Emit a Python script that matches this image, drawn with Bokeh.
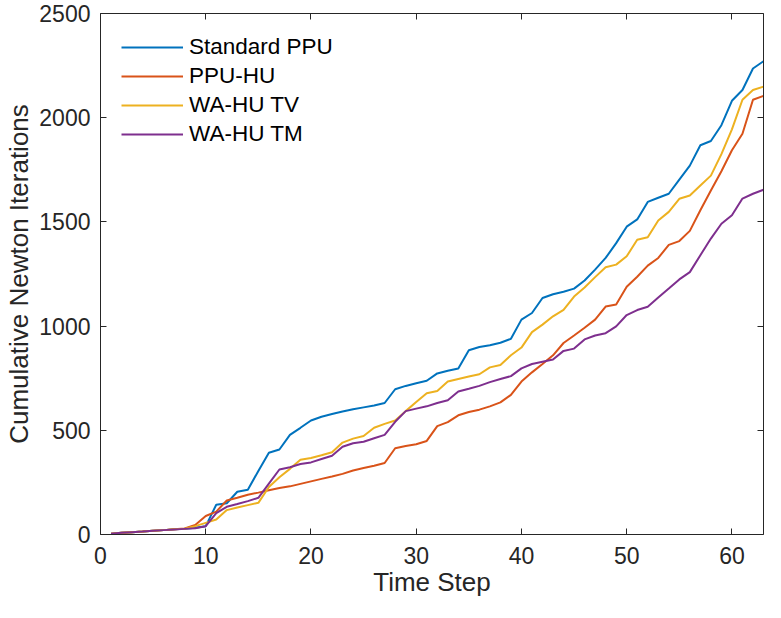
from bokeh.plotting import figure
from bokeh.models import (Range1d, LinearAxis, FixedTicker, Legend, LegendItem,
                          CustomLabelingPolicy)
from bokeh.embed import file_html
from bokeh.resources import INLINE

time_step = list(range(1, 64))

standard_ppu = [4, 8, 11, 14, 18, 21, 25, 28, 32, 40,
                143, 150, 205, 215, 305, 392, 408, 478, 512, 547,
                565, 578, 590, 601, 610, 619, 631, 697, 713, 726,
                738, 773, 786, 797, 884, 900, 908, 920, 939, 1031,
                1063, 1135, 1153, 1165, 1180, 1219, 1271, 1327, 1398, 1477,
                1512, 1596, 1616, 1635, 1703, 1770, 1868, 1888, 1964, 2081,
                2133, 2236, 2271]
ppu_hu = [4, 8, 11, 14, 18, 21, 25, 29, 46, 89,
          110, 163, 176, 191, 201, 212, 223, 231, 243, 255,
          267, 278, 291, 307, 319, 330, 343, 414, 425, 433,
          449, 520, 539, 572, 588, 599, 615, 634, 670, 734,
          778, 818, 860, 919, 955, 992, 1031, 1094, 1104, 1189,
          1237, 1290, 1327, 1390, 1408, 1457, 1556, 1651, 1743, 1844,
          1923, 2086, 2105]
wa_hu_tv = [4, 8, 11, 14, 18, 21, 25, 28, 40, 56,
            72, 117, 130, 141, 152, 228, 275, 315, 359, 367,
            380, 395, 441, 460, 473, 512, 531, 547, 592, 636,
            678, 689, 734, 746, 758, 769, 802, 813, 860, 897,
            971, 1007, 1047, 1078, 1142, 1185, 1235, 1282, 1295, 1335,
            1414, 1426, 1507, 1548, 1611, 1627, 1675, 1722, 1825, 1944,
            2086, 2133, 2149]
wa_hu_tm = [4, 8, 11, 14, 18, 21, 24, 27, 30, 40,
            103, 133, 146, 160, 176, 244, 312, 323, 338, 346,
            362, 378, 421, 438, 445, 462, 478, 541, 592, 604,
            615, 631, 644, 686, 699, 713, 731, 746, 760, 797,
            818, 829, 840, 881, 892, 936, 955, 966, 999, 1053,
            1077, 1093, 1137, 1180, 1224, 1259, 1340, 1420, 1491, 1532,
            1612, 1635, 1654]

series_names = ["Standard PPU", "PPU-HU", "WA-HU TV", "WA-HU TM"]
series_values = [standard_ppu, ppu_hu, wa_hu_tv, wa_hu_tm]
series_colors = ["#0072BD", "#D95319", "#EDB120", "#7E2F8E"]

x_ticks = [0, 10, 20, 30, 40, 50, 60]
y_ticks = [0, 500, 1000, 1500, 2000, 2500]

FONT = "Liberation Sans"
AX = "#262626"

p = figure(width=765, height=602, output_backend="svg", toolbar_location=None,
           x_range=Range1d(0, 63), y_range=Range1d(0, 2500),
           min_border_left=100, min_border_right=2, min_border_top=13,
           min_border_bottom=68)
p.grid.visible = False
p.outline_line_color = None
p.background_fill_color = "white"

hide_labels = CustomLabelingPolicy(code="""
try { return new indices.constructor(indices.size, 0) }
catch (e) { for (const i of Array.from(indices)) { indices.set(i, false) } return indices }
""")

def style_axis(ax, ticks, show_labels=True):
    ax.ticker = FixedTicker(ticks=ticks)
    ax.axis_line_color = AX
    ax.axis_line_width = 1
    ax.major_tick_line_color = AX
    ax.major_tick_in = 6
    ax.major_tick_out = 0
    ax.minor_tick_line_color = None
    ax.major_label_text_font = FONT
    ax.major_label_text_color = AX
    if show_labels:
        ax.major_label_text_font_size = "23px"
    else:
        ax.major_label_text_font_size = "0px"
        ax.major_label_policy = hide_labels
        ax.major_label_standoff = 0

style_axis(p.xaxis[0], x_ticks)
style_axis(p.yaxis[0], y_ticks)
p.xaxis[0].major_label_standoff = 12
p.yaxis[0].major_label_standoff = 10
p.xaxis[0].axis_label = "Time Step"
p.yaxis[0].axis_label = "Cumulative Newton Iterations"
for ax in (p.xaxis[0], p.yaxis[0]):
    ax.axis_label_text_font = FONT
    ax.axis_label_text_font_size = "26px"
    ax.axis_label_text_font_style = "normal"
    ax.axis_label_text_color = AX
p.xaxis[0].axis_label_standoff = 0
p.yaxis[0].axis_label_standoff = 2

top_ax = LinearAxis()
style_axis(top_ax, x_ticks, show_labels=False)
p.add_layout(top_ax, "above")
right_ax = LinearAxis()
style_axis(right_ax, y_ticks, show_labels=False)
p.add_layout(right_ax, "right")

items = []
for name, vals, col in zip(series_names, series_values, series_colors):
    r = p.line(time_step, vals, line_color=col, line_width=2)
    items.append(LegendItem(label=name, renderers=[r]))

legend = Legend(items=items, location="top_left")
legend.margin = 21
legend.padding = 0
legend.spacing = 3
legend.glyph_width = 62
legend.glyph_height = 20
legend.label_height = 20
legend.label_standoff = 6
legend.label_text_font = FONT
legend.label_text_font_size = "22.5px"
legend.label_text_color = "black"
legend.border_line_color = None
legend.background_fill_alpha = 0
p.add_layout(legend)

open("out.html", "w").write(file_html(p, INLINE))
